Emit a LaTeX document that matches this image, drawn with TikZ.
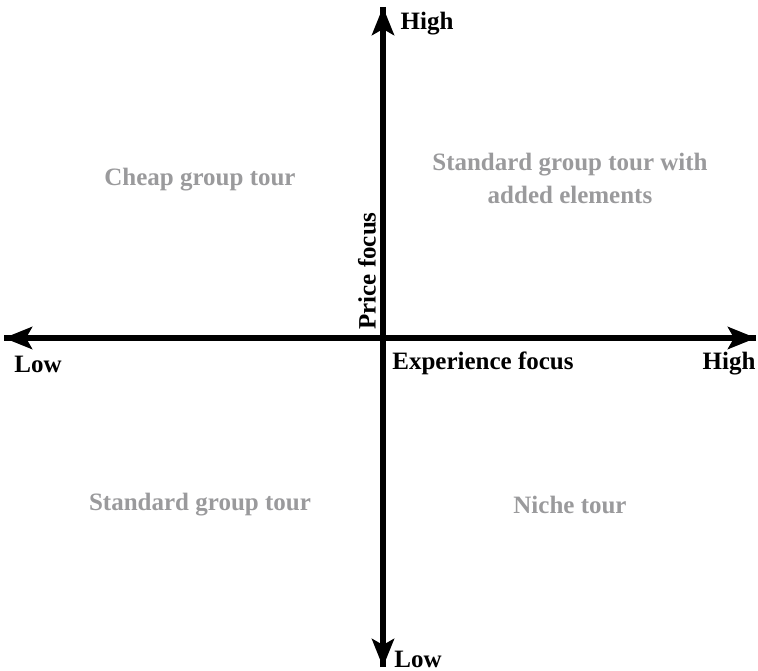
\documentclass[tikz,border=0pt]{standalone}
\usepackage{fontspec}
\setmainfont{Liberation Serif}
\usetikzlibrary{arrows.meta}
\definecolor{quadgray}{HTML}{9A9A9C}
\begin{document}
\begin{tikzpicture}[x=1pt,y=-1pt,
  axis/.style={line width=5.5pt,-{Stealth[length=28pt,width=22pt,inset=6pt]}},
  axlabel/.style={font=\bfseries\fontsize{25}{28}\selectfont,inner sep=0pt},
  quad/.style={font=\bfseries\fontsize{25}{33}\selectfont,text=quadgray,align=center,inner sep=0pt}]
  \useasboundingbox (0,0) rectangle (758,671);
  % axis end points
  \coordinate (left) at (4,338);
  \coordinate (right) at (756,338);
  \coordinate (top) at (383,7);
  \coordinate (bottom) at (383,667);
  \draw[axis] (right) -- (left);
  \draw[axis] (left) -- (right);
  \draw[axis] (bottom) -- (top);
  \draw[axis] (top) -- (bottom);
  % axis labels
  \node[axlabel] (yhigh) at (427,24) {High};
  \node[axlabel] (ylow) at (418,659) {Low};
  \node[axlabel] (xlow) at (38,364) {Low};
  \node[axlabel] (xhigh) at (729,364) {High};
  \node[axlabel] (xname) at (483,363) {Experience focus};
  \node[axlabel,rotate=90] (yname) at (367,271) {Price focus};
  % quadrant labels
  \node[quad] (q1) at (200,180) {Cheap group tour};
  \node[quad] (q2) at (570,178) {Standard group tour with\\added elements};
  \node[quad] (q3) at (200,505) {Standard group tour};
  \node[quad] (q4) at (570,505) {Niche tour};
\end{tikzpicture}
\end{document}
